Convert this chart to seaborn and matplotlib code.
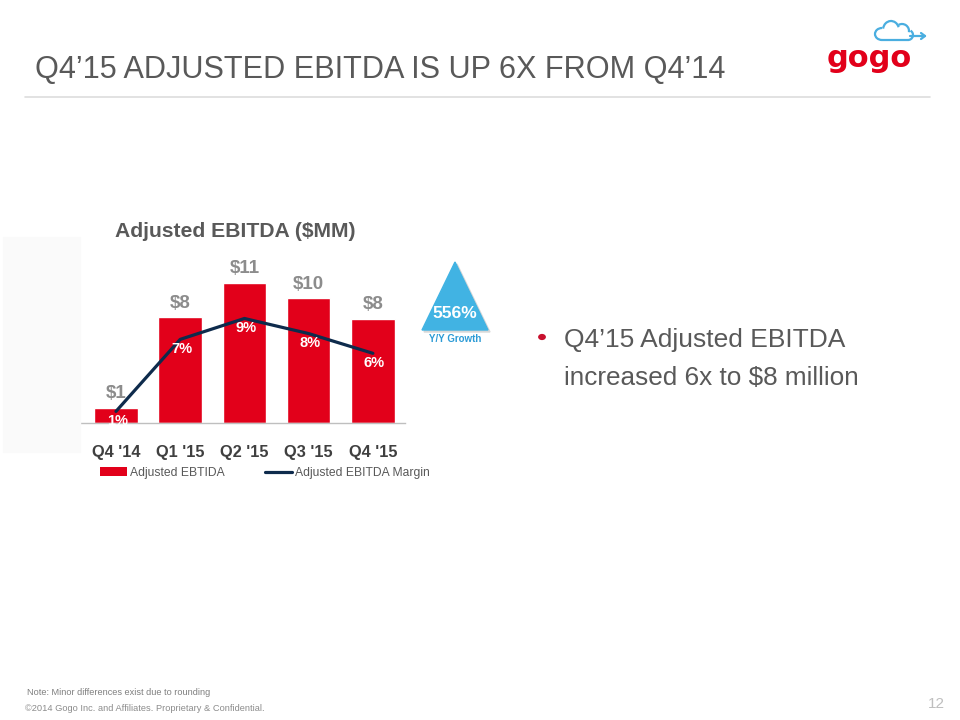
import numpy as np
import pandas as pd
import seaborn as sns
import matplotlib.pyplot as plt
from matplotlib.patches import Polygon, Rectangle, Circle, Arc, Patch
from matplotlib.lines import Line2D

# chart data
quarters = ["Q4 '14", "Q1 '15", "Q2 '15", "Q3 '15", "Q4 '15"]
ebitda = [1.2, 8.3, 11.0, 9.8, 8.2]          # $MM
ebitda_labels = ["$1", "$8", "$11", "$10", "$8"]
margin = [1.0, 7.2, 9.0, 7.7, 6.0]           # %
margin_labels = ["1%", "7%", "9%", "8%", "6%"]
growth_label = "556%"

RED = "#e2001a"
NAVY = "#0e2b4c"
GRAY = "#595959"
BLUE = "#41b3e3"
ARIAL = ["Liberation Sans", "DejaVu Sans"]

sns.set_theme(style="white")
plt.rcParams["font.family"] = ARIAL

fig = plt.figure(figsize=(9.6, 7.2), dpi=100)
W, H = 960.0, 720.0
fx = lambda x: x / W
fy = lambda y: 1 - y / H
renderer = fig.canvas.get_renderer()


def fit(txt, width_px):
    # no narrow font installed: scale the size so the text spans the same width
    bb = txt.get_window_extent(renderer)
    txt.set_fontsize(txt.get_fontsize() * width_px / bb.width)


# faint panel on the left
fig.patches.append(Rectangle((fx(3), fy(452)), fx(77), (452 - 237) / H,
                             transform=fig.transFigure, color="#fafafa", zorder=0))

# header
title = fig.text(fx(35), fy(78), "Q4\u201915 ADJUSTED EBITDA IS UP 6X FROM Q4\u201914",
                 fontsize=24, color=GRAY, va="baseline", ha="left")
fit(title, 692)
fig.add_artist(Line2D([fx(25), fx(930)], [fy(97), fy(97)], color="#dddddd", lw=1.2,
                      transform=fig.transFigure))

# logo
fig.text(fx(869), fy(67), "gogo", fontsize=22, fontweight="bold", color=RED,
         family=["DejaVu Sans"], ha="center", va="baseline")
cloud_ax = fig.add_axes([fx(868), fy(44), fx(62), 26 / H])
cloud_ax.set_xlim(0, 62)
cloud_ax.set_ylim(0, 26)
cloud_ax.axis("off")
for cx, cy, w, h, t1, t2 in [(14, 10, 14, 12, 90, 270), (23, 14, 16, 18, 20, 170),
                             (34, 13, 14, 14, -10, 120), (40, 9, 10, 10, -90, 60)]:
    cloud_ax.add_patch(Arc((cx, cy), w, h, theta1=t1, theta2=t2, color="#4aaee0", lw=1.6))
cloud_ax.plot([14, 40], [4, 4], color="#4aaee0", lw=1.6)
cloud_ax.plot([42, 57], [8, 8], color="#4aaee0", lw=1.6)
cloud_ax.plot([53, 57, 53], [11, 8, 5], color="#4aaee0", lw=1.6)

# main chart
ax = fig.add_axes([fx(80), fy(423), fx(405 - 80), (423 - 245) / H])
df = pd.DataFrame({"quarter": quarters, "ebitda": ebitda})
sns.barplot(data=df, x="quarter", y="ebitda", color=RED, saturation=1, width=0.68, ax=ax)
ax.set_xlim(-0.56, 4.5)
ax.set_ylim(0, 14)
ax.set_xlabel("")
ax.set_ylabel("")
ax.set_yticks([])
for s in ["top", "right", "left"]:
    ax.spines[s].set_visible(False)
ax.spines["bottom"].set_color("#bfbfbf")
ax.spines["bottom"].set_linewidth(1)
ax.tick_params(axis="x", length=0, pad=16)
for lab in ax.get_xticklabels():
    lab.set_fontsize(11.8)
    lab.set_fontweight("bold")
    lab.set_color("#404040")
for i, (v, t) in enumerate(zip(ebitda, ebitda_labels)):
    ax.annotate(t, (i, v), xytext=(0, 7), textcoords="offset points", ha="center",
                va="baseline", fontsize=13.5, fontweight="bold", color="#8c8c8c")

ax2 = ax.twinx()
sns.lineplot(x=np.arange(len(margin)), y=margin, color=NAVY, lw=2.3, ax=ax2)
ax2.set_ylim(0, 14 * 12.7 / 11.6)
ax2.set_yticks([])
for s in ["top", "right", "left", "bottom"]:
    ax2.spines[s].set_visible(False)
for i, (v, t) in enumerate(zip(margin, margin_labels)):
    ax2.annotate(t, (i, v), xytext=(1, -7), textcoords="offset points", ha="center",
                 va="center", fontsize=10.5, fontweight="bold", color="white")

fig.text(fx(235), fy(237), "Adjusted EBITDA ($MM)", fontsize=15.2,
         fontweight="bold", color=GRAY, ha="center", va="baseline")

handles = [Patch(facecolor=RED, edgecolor="none"), Line2D([], [], color=NAVY, lw=2.3)]
fig.legend(handles, ["Adjusted EBTIDA", "Adjusted EBITDA Margin"], ncol=2,
           loc="center left", bbox_to_anchor=(fx(100), fy(473)), frameon=False,
           borderpad=0, borderaxespad=0, handlelength=2.2, handleheight=0.75,
           handletextpad=0.25, columnspacing=3.4,
           prop={"size": 8.7}, labelcolor=GRAY)

# growth triangle
fig.patches.append(Polygon([(fx(457), fy(264)), (fx(424), fy(332)), (fx(490), fy(332))],
                           closed=True, transform=fig.transFigure, color="#d8d8d8", zorder=1))
fig.patches.append(Polygon([(fx(455), fy(262)), (fx(422), fy(330)), (fx(488), fy(330))],
                           closed=True, transform=fig.transFigure, color=BLUE, zorder=2))
fig.text(fx(455), fy(314), growth_label, fontsize=12.6, fontweight="bold",
         color="white", ha="center", va="center", zorder=3)
fig.text(fx(455), fy(339), "Y/Y Growth", fontsize=7, fontweight="bold",
         color="#2c9bd6", ha="center", va="center")

# bullet text
fig.patches.append(Circle((fx(542), fy(337)), 3.2 / W, transform=fig.transFigure,
                          color="#c8102e"))
b1 = fig.text(fx(564), fy(347), "Q4\u201915 Adjusted EBITDA", fontsize=20,
              color=GRAY, ha="left", va="baseline")
b2 = fig.text(fx(564), fy(385), "increased 6x to $8 million", fontsize=20,
              color=GRAY, ha="left", va="baseline")
fit(b1, 282)
fit(b2, 294)

# footer
fig.text(fx(27), fy(695), "Note: Minor differences exist due to rounding",
         fontsize=6.6, color="#7f7f7f", ha="left", va="baseline")
fig.text(fx(25), fy(711), "\u00a92014 Gogo Inc. and Affiliates. Proprietary & Confidential.",
         fontsize=6.65, color="#8c8c8c", ha="left", va="baseline")
fig.text(fx(945), fy(708), "12", fontsize=11, color="#bfbfbf",
         ha="right", va="baseline")

fig.savefig("out.png", dpi=100)
